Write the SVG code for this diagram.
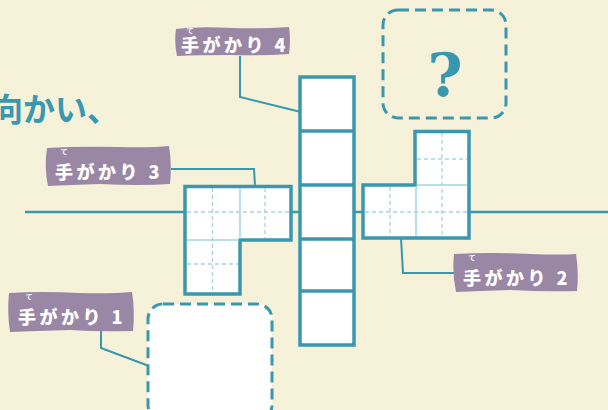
<svg xmlns="http://www.w3.org/2000/svg" width="608" height="410" viewBox="0 0 608 410">
<style>
.conn{stroke:#3a97b0;stroke-width:2;fill:none}
.shape{fill:#ffffff;stroke:#3a97b0;stroke-width:3.5;stroke-linejoin:miter}
.dash{stroke:#a6d3e0;stroke-width:1.3;stroke-dasharray:4 3;fill:none}
.thin{stroke:#a6d3e0;stroke-width:1.5;fill:none}
.tag{fill:#9a87a6}
.tagtext{font-family:"Noto Sans CJK JP",sans-serif;font-weight:900;font-size:18px;fill:#ffffff;letter-spacing:3.5px}
.ruby{font-family:"Noto Sans CJK JP",sans-serif;font-weight:700;font-size:7px;fill:#ffffff}
.box{fill:#ffffff;stroke:#3a97b0;stroke-width:3;stroke-dasharray:11 6}
</style>
<rect width="608" height="410" fill="#f6f1d9"/>
<text x="-9" y="121" font-family="Noto Sans CJK JP, sans-serif" font-weight="700" font-size="32" fill="#3a97b0">向かい、</text>

<g id="connectors">
<line x1="25" y1="212" x2="608" y2="212" stroke="#3a97b0" stroke-width="2.5"/>
<polyline class="conn" points="240,56 240,97 301,112"/>
<polyline class="conn" points="171,169 254,169 255,186"/>
<polyline class="conn" points="401,238 403,273 455,273"/>
<polyline class="conn" points="101,330 101,348 149,366"/>
</g>

<g id="column">
<rect class="shape" x="300" y="77" width="54" height="268"/>
<g stroke="#3a97b0" stroke-width="3.5">
<line x1="300" y1="131" x2="354" y2="131"/>
<line x1="300" y1="185" x2="354" y2="185"/>
<line x1="300" y1="239" x2="354" y2="239"/>
<line x1="300" y1="291" x2="354" y2="291"/>
</g>
</g>

<g id="shape3">
<path class="shape" d="M185,186.5 H291 V240 H240 V294 H185 Z"/>
<line class="thin" x1="240" y1="188" x2="240" y2="239"/>
<line class="thin" x1="187" y1="240" x2="239" y2="240"/>
<line class="dash" x1="212.5" y1="188" x2="212.5" y2="292"/>
<line class="dash" x1="265" y1="188" x2="265" y2="238"/>
<line class="dash" x1="187" y1="212" x2="289" y2="212"/>
<line class="dash" x1="187" y1="264" x2="238" y2="264"/>
</g>

<g id="shape2">
<path class="shape" d="M363,185 H415 V131.5 H469 V238 H363 Z"/>
<line class="thin" x1="416" y1="186" x2="416" y2="236"/>
<line class="thin" x1="417" y1="185" x2="467" y2="185"/>
<line class="dash" x1="390" y1="187" x2="390" y2="236"/>
<line class="dash" x1="442" y1="133" x2="442" y2="236"/>
<line class="dash" x1="417" y1="159" x2="467" y2="159"/>
<line class="dash" x1="365" y1="212" x2="467" y2="212"/>
</g>

<g id="unknown-box">
<rect class="box" x="148" y="304" width="124" height="116" rx="15"/>
</g>

<g id="question-box">
<rect x="383" y="10" width="123" height="108" rx="15" fill="none" stroke="#3a97b0" stroke-width="3" stroke-dasharray="11 6"/>
<text x="445" y="96" text-anchor="middle" font-family="DejaVu Serif, serif" font-weight="700" font-size="60" fill="#3a97b0">?</text>
</g>

<g id="hint4">
<path class="tag" d="M176,29 Q200,26 232,28 Q262,29 289,27 Q291,40 289,54 Q262,56 230,55 Q200,55 177,56 Q174,42 176,29 Z"/>
<text class="ruby" x="190" y="33" text-anchor="middle">て</text>
<text class="tagtext" x="181" y="52">手がかり 4</text>
</g>

<g id="hint3">
<path class="tag" d="M47,148 Q80,146 120,147 Q150,148 169,146 Q172,165 170,184 Q140,186 100,184 Q70,185 48,186 Q44,167 47,148 Z"/>
<text class="ruby" x="64" y="154" text-anchor="middle">て</text>
<text class="tagtext" x="55" y="179">手がかり 3</text>
</g>

<g id="hint2">
<path class="tag" d="M454,254 Q490,252 530,254 Q560,255 576,254 Q579,272 577,291 Q545,292 510,290 Q480,291 456,292 Q452,273 454,254 Z"/>
<text class="ruby" x="472" y="260" text-anchor="middle">て</text>
<text class="tagtext" x="463" y="285">手がかり 2</text>
</g>

<g id="hint1">
<path class="tag" d="M9,293 Q40,291 80,293 Q110,294 132,292 Q135,311 133,331 Q100,332 70,330 Q35,331 10,332 Q7,312 9,293 Z"/>
<text class="ruby" x="29" y="299" text-anchor="middle">て</text>
<text class="tagtext" x="18" y="324">手がかり 1</text>
</g>
</svg>
